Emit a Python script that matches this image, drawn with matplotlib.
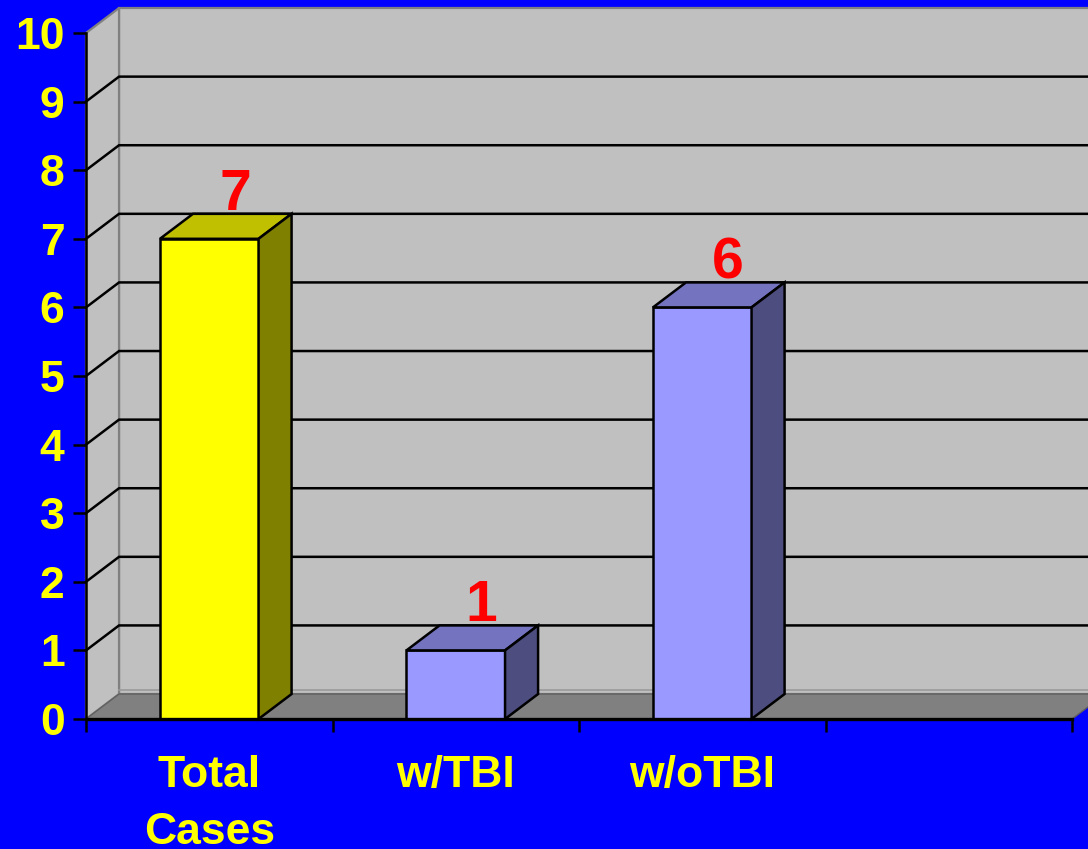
import matplotlib.pyplot as plt
from matplotlib.patches import Polygon

# ---------- data ----------
categories = ["Total\nCases", "w/TBI", "w/oTBI", ""]
values = [7, 1, 6]
y_max = 10

# ---------- style ----------
BG = "#0000FF"
WALL = "#C0C0C0"
FLOOR = "#808080"
FRONT = ["#FFFF00", "#9999FF", "#9999FF"]
TOP = ["#C0C000", "#7373BF", "#7373BF"]
SIDE = ["#808000", "#4D4D80", "#4D4D80"]
DX, DY = 0.134, 0.364      # 3D depth offset in data units
BAR_W = 0.4
FONT = "Liberation Sans"

W, H = 1088, 849
fig = plt.figure(figsize=(W / 100, H / 100), dpi=100, facecolor=BG)
ax = fig.add_axes([86 / W, (H - 719) / H, 986 / W, 686 / H])
ax.set_facecolor("none")
n = len(categories)
ax.set_xlim(0, n)
ax.set_ylim(0, y_max)


def poly(pts, fc, ec, lw, z):
    ax.add_patch(Polygon(pts, closed=True, facecolor=fc, edgecolor=ec,
                         linewidth=lw, zorder=z, clip_on=False,
                         joinstyle="miter"))


# ---------- walls and floor ----------
poly([(DX, DY), (n + DX, DY), (n + DX, y_max + DY), (DX, y_max + DY)],
     WALL, "#808080", 1.6, 0.5)
poly([(0, 0), (DX, DY), (DX, y_max + DY), (0, y_max)],
     WALL, "#808080", 1.6, 0.6)
poly([(0, 0), (n, 0), (n + DX, DY), (DX, DY)], FLOOR, "#606060", 1.0, 0.7)
ax.plot([DX, n + DX], [DY + 0.06, DY + 0.06], color="#9a9a9a", lw=1.2,
        zorder=0.75, clip_on=False)

# gridlines on back and side wall
for v in range(1, y_max):
    ax.plot([0, DX, n + DX], [v, v + DY, v + DY], color="black", lw=1.8,
            zorder=0.8, clip_on=False, solid_joinstyle="miter")

# ---------- bars ----------
for i, v in enumerate(values):
    x0 = i + 0.5 - BAR_W / 2
    x1 = x0 + BAR_W
    poly([(x0, 0), (x1, 0), (x1, v), (x0, v)], FRONT[i], "black", 1.8, 3)
    poly([(x0, v), (x1, v), (x1 + DX, v + DY), (x0 + DX, v + DY)],
         TOP[i], "black", 1.8, 3)
    poly([(x1, 0), (x1 + DX, DY), (x1 + DX, v + DY), (x1, v)],
         SIDE[i], "black", 1.8, 3)
    ax.text(i + 0.5 + 0.105, v + DY + 0.06, str(v), color="#FF0000",
            fontsize=41, fontweight="bold", family=FONT,
            ha="center", va="baseline", zorder=4, clip_on=False)

# ---------- axes ----------
for s in ("top", "right"):
    ax.spines[s].set_visible(False)
ax.spines["left"].set_linewidth(1.8)
ax.spines["bottom"].set_linewidth(2.4)
ax.spines["left"].set_zorder(2)
ax.spines["bottom"].set_zorder(3.5)

ax.set_yticks(range(0, y_max + 1))
ax.set_yticklabels([str(t) for t in range(0, y_max + 1)])
ax.tick_params(axis="y", length=9.4, width=1.8, color="black",
               labelcolor="#FFFF00", labelsize=32, pad=6)

ax.set_xticks(range(0, n + 1))
ax.set_xticklabels([""] * (n + 1))
ax.tick_params(axis="x", which="major", length=9, width=1.8,
               color="black", direction="out")
ax.set_xticks([i + 0.5 for i in range(n)], categories, minor=True)
ax.tick_params(axis="x", which="minor", length=0, pad=26,
               labelcolor="#FFFF00", labelsize=32)

for lab in ax.get_yticklabels() + ax.get_xticklabels(minor=True):
    lab.set_family(FONT)
    lab.set_fontweight("bold")
for lab in ax.get_xticklabels(minor=True):
    lab.set_linespacing(1.5)

fig.savefig("out.png", dpi=100, facecolor=BG)
